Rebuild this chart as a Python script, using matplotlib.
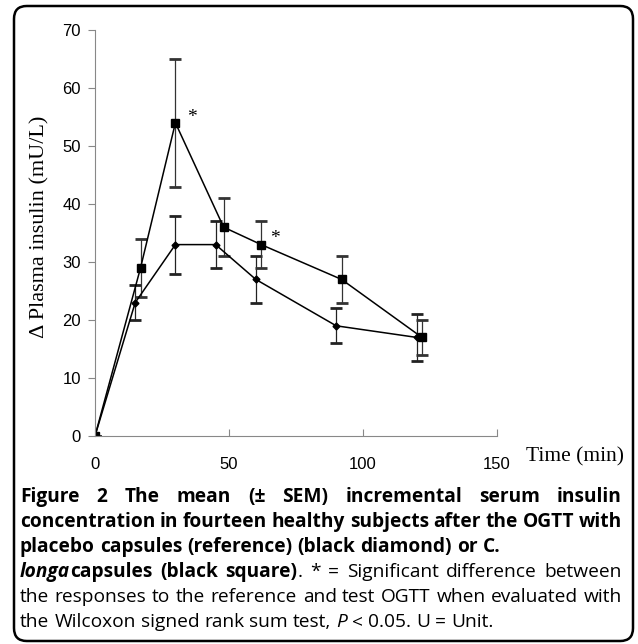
import matplotlib
matplotlib.use("Agg")
import matplotlib.pyplot as plt
from matplotlib.patches import FancyBboxPatch

# dados
t_placebo = [0, 15, 30, 45, 60, 90, 120]
ins_placebo = [0, 23, 33, 33, 27, 19, 17]
sem_placebo = [0, 3, 5, 4, 4, 3, 4]

t_longa = [0, 17, 30, 48, 62, 92, 122]
ins_longa = [0, 29, 54, 36, 33, 27, 17]
sem_longa = [0, 5, 11, 5, 4, 4, 3]

star_x = [36, 67]
star_y = [55, 34]

xticks = [0, 50, 100, 150]
yticks = [0, 10, 20, 30, 40, 50, 60, 70]

W, H = 638, 644
fig = plt.figure(figsize=(W / 100, H / 100), dpi=100)
ax = fig.add_axes([95 / W, 1 - 436 / H, 402 / W, 406 / H])

# placebo (diamante) e C. longa (quadrado)
ax.errorbar(t_placebo, ins_placebo, yerr=sem_placebo, c='black', lw=1.1,
            marker='D', markersize=3.5, elinewidth=0.9, capsize=4, capthick=2,
            ecolor='#222222')
ax.errorbar(t_longa, ins_longa, yerr=sem_longa, c='black', lw=1.1,
            marker='s', markersize=6, elinewidth=0.9, capsize=4, capthick=2,
            ecolor='#333333')

for sx, sy in zip(star_x, star_y):
    ax.text(sx, sy, '*', fontsize=14, family='Liberation Serif', ha='center', va='center')

ax.set_xlim(0, 150)
ax.set_ylim(0, 70)
ax.set_xticks(xticks)
ax.set_yticks(yticks)
for s in ['top', 'right']:
    ax.spines[s].set_visible(False)
for s in ['left', 'bottom']:
    ax.spines[s].set_color('#888888')
    ax.spines[s].set_linewidth(0.8)
ax.tick_params(axis='y', direction='out', length=5, color='#888888', labelsize=12, pad=5)
ax.tick_params(axis='x', direction='in', length=5, color='#888888', labelsize=12, pad=15)
for lab in ax.get_xticklabels() + ax.get_yticklabels():
    lab.set_family('Liberation Sans')

fig.text(40 / W, 1 - 227 / H, '\u0394 Plasma insulin (mU/L)', rotation=90,
         family='Liberation Serif', fontsize=16, ha='center', va='center')
fig.text(526 / W, 1 - 457 / H, 'Time (min)', family='Liberation Serif', fontsize=15.5,
         ha='left', va='center')

# moldura arredondada
box = FancyBboxPatch((14 / W, 3 / H), 619 / W, 635 / H,
                     boxstyle='round,pad=0,rounding_size=0.02',
                     transform=fig.transFigure, fill=False, lw=1.8, ec='black')
fig.patches.append(box)

# legenda justificada
B = dict(weight='bold')
BI = dict(weight='bold', style='italic')
R = dict(weight='normal')
I = dict(weight='normal', style='italic')

lines = [
    ([[('Figure', B)], [('2', B)], [('The', B)], [('mean', B)], [('(\u00b1', B)], [('SEM)', B)],
      [('incremental', B)], [('serum', B)], [('insulin', B)]], True),
    ([[(w, B)] for w in 'concentration in fourteen healthy subjects after the OGTT with'.split()], True),
    ([[(w, B)] for w in 'placebo capsules (reference) (black diamond) or C.'.split()], False),
    ([[('longa', BI), ('capsules', B)], [('(black', B)], [('square)', B), ('.', R)]]
     + [[(w, R)] for w in '* = Significant difference between'.split()], True),
    ([[(w, R)] for w in 'the responses to the reference and test OGTT when evaluated with'.split()], True),
    ([[(w, R)] for w in 'the Wilcoxon signed rank sum test,'.split()] + [[('P', I)]]
     + [[(w, R)] for w in '< 0.05. U = Unit.'.split()], False),
]

fs = 13.8
fam = 'Open Sans'
r = fig.canvas.get_renderer()


def width(txt, st):
    t = fig.text(0, 0, txt, family=fam, fontsize=fs, **st)
    w = t.get_window_extent(r).width
    t.remove()
    return w


sp = width('x x', R) - width('xx', R)
x0, x1 = 20, 622
for k, (words, just) in enumerate(lines):
    y = 497 + 25 * k
    ws = [sum(width(s, st) for s, st in word) for word in words]
    if just:
        gap = (x1 - x0 - sum(ws)) / (len(words) - 1)
    else:
        gap = sp
    x = x0
    for word, wd in zip(words, ws):
        xx = x
        for s, st in word:
            fig.text(xx / W, 1 - y / H, s, family=fam, fontsize=fs, va='center', ha='left', **st)
            xx += width(s, st)
        x += wd + gap

fig.savefig('out.png', dpi=100)
